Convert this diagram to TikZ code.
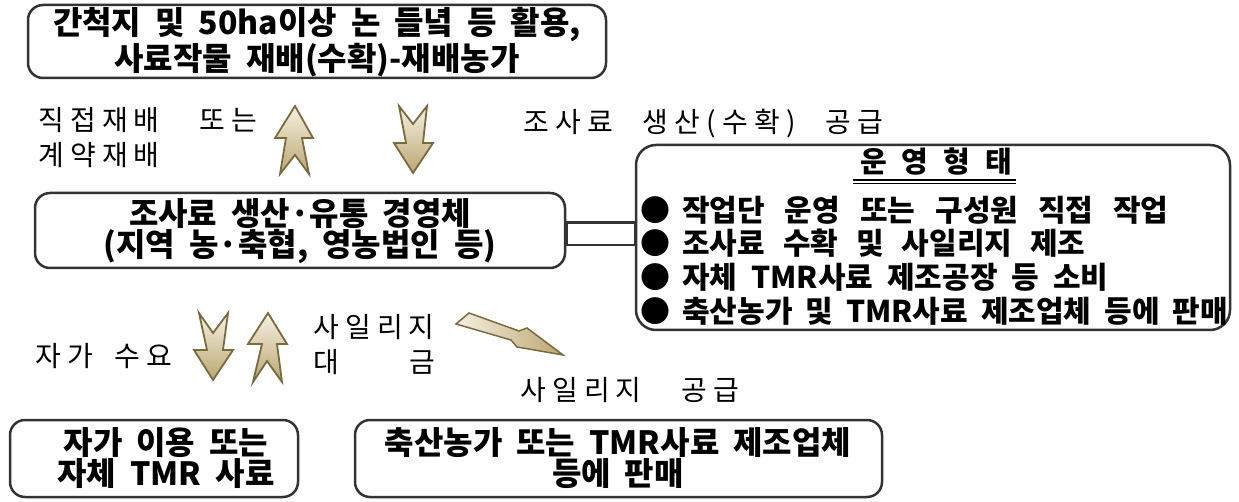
\documentclass[tikz,border=0pt]{standalone}
\usepackage{fontspec}
\setmainfont{Noto Sans CJK KR}
\newfontfamily\krlab{Noto Sans CJK KR}[LetterSpace=22]
\usetikzlibrary{calc}
\definecolor{bord}{HTML}{333333}
\definecolor{arrlight}{HTML}{F6F1E2}
\definecolor{arrdark}{HTML}{BBA673}
\definecolor{arredge}{HTML}{7A6A3C}
\tikzset{
  wsp/.style={execute at begin node={\spaceskip=#1pt\relax}},
  box/.style={draw=bord, line width=2.5pt, rounded corners=15pt, inner sep=0pt},
  btxt/.style={font=\bfseries\fontsize{32}{31}\selectfont, align=center, inner sep=0pt, wsp=14},
  ltxt/.style={font=\krlab\fontsize{28}{35}\selectfont, align=left, inner sep=0pt},
  rtxt/.style={font=\bfseries\fontsize{30}{31}\selectfont, anchor=west, inner sep=0pt},
  fatarrow/.style={draw=arredge, line width=1.8pt, top color=arrlight, bottom color=arrdark, line join=miter},
  boltarrow/.style={draw=arredge, line width=1.5pt, left color=arrlight, right color=arrdark, line join=miter}
}
\newcommand{\blt}{●\hspace{12pt}}
\begin{document}
\begin{tikzpicture}[x=1pt,y=-1pt]
\useasboundingbox (0,0) rectangle (1239,502);
% boxes
\node[box, minimum width=578pt, minimum height=73pt] (top) at (317,41.5) {};
\node[btxt, font=\bfseries\fontsize{32}{32}\selectfont, wsp=14] (toptext) at (317,42) {간척지 및 50ha이상 논 들녘 등 활용,\\사료작물 재배(수확)-재배농가};

\node[box, minimum width=530pt, minimum height=75pt] (mid) at (300,230.5) {};
\node[btxt] (midtext) at (300,231) {조사료 생산·유통 경영체\\(지역 농·축협, 영농법인 등)};

\node[box, rounded corners=20pt, minimum width=594pt, minimum height=185pt] (ops) at (933,237.5) {};
\node[font=\bfseries\fontsize{29}{31}\selectfont, inner sep=0pt, wsp=15] (head) at (936,162) {운 영 형 태};
\draw[line width=1.3pt] (853,180) -- (1016,180);
\draw[line width=1.3pt] (853,183.5) -- (1016,183.5);
\node[rtxt, wsp=20] (o1) at (640,210) {\blt 작업단 운영 또는 구성원 직접 작업};
\node[rtxt, wsp=18] (o2) at (640,243) {\blt 조사료 수확 및 사일리지 제조};
\node[rtxt, wsp=14] (o3) at (640,277) {\blt 자체 TMR사료 제조공장 등 소비};
\node[rtxt, wsp=13] (o4) at (640,311) {\blt 축산농가 및 TMR사료 제조업체 등에 판매};

% connector between mid and ops
\draw[draw=bord, line width=2.5pt] ([yshift=8pt]mid.east) rectangle ([yshift=-14.5pt]mid.east -| ops.west);

\node[box, minimum width=288pt, minimum height=77pt] (own) at (154,458.5) {};
\node[btxt] (owntext) at (166,458) {자가 이용 또는\\자체 TMR 사료};
\node[box, minimum width=527pt, minimum height=77pt] (sell) at (618.5,458.5) {};
\node[btxt] (selltext) at (618,458) {축산농가 또는 TMR사료 제조업체\\등에 판매};

% labels
\node[ltxt, anchor=west, wsp=40] (l1) at (38,137.5) {직접재배 또는\\계약재배};
\node[ltxt, anchor=west, wsp=30] (l2) at (523,124) {조사료 생산(수확) 공급};
\node[ltxt, anchor=west, wsp=22] (l3) at (35,356) {자가 수요};
\node[ltxt, anchor=west] (l4) at (313,344.5) {사일리지\\\makebox[122pt][l]{대\hfill 금}};
\node[ltxt, anchor=west, wsp=40] (l5) at (520,390) {사일리지 공급};

% up arrow (upper)
\path[fatarrow] (295,106) -- (313,138) -- (302,138) -- (309,174) -- (295,155) -- (280,174) -- (286,138) -- (275,138) -- cycle;
% down arrow (upper)
\path[fatarrow] (399,106) -- (413,124) -- (427,106) -- (423,143) -- (433,143) -- (413,173) -- (394,143) -- (406,143) -- cycle;
% down arrow (lower)
\path[fatarrow] (199,313) -- (213,333) -- (228,313) -- (223,350) -- (233,350) -- (213,380) -- (194,350) -- (207,350) -- cycle;
% up arrow (lower)
\path[fatarrow] (268,313) -- (287,344) -- (277,344) -- (282,382) -- (267,361) -- (253,382) -- (262,344) -- (248,344) -- cycle;
% lightning arrow
\path[boltarrow] (456,324) -- (469,313) -- (519,331) -- (527,328) -- (563,355) -- (517,347) -- (511,340) -- cycle;
\end{tikzpicture}
\end{document}
